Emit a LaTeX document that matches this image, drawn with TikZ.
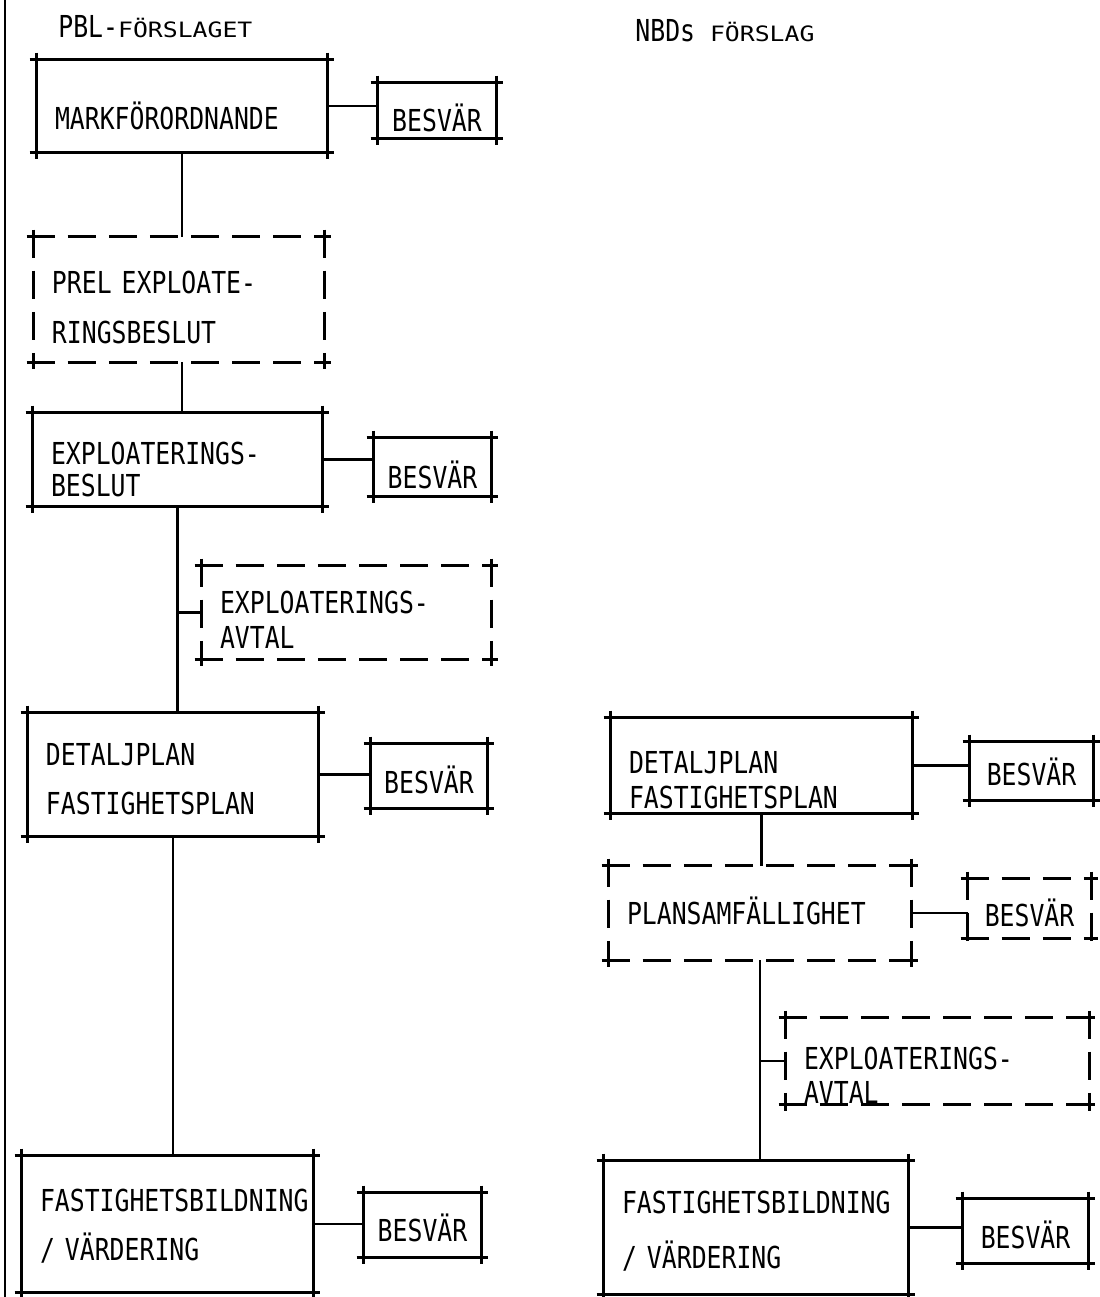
\documentclass[tikz,border=0pt]{standalone}
\usepackage{fontspec}
\usepackage{graphicx}
\setmainfont[FakeStretch=0.82]{DejaVu Sans Mono}
\usetikzlibrary{calc}
\hyphenpenalty=10000

\begin{document}
\begin{tikzpicture}[line width=0.8pt,font=\fontsize{8.6}{14}\selectfont,
   ln/.style={draw,shorten <=-2pt,shorten >=-2pt},
   dsh/.style={dash pattern=on 8pt off 3.7pt},
   box/.style={inner xsep=0.17cm,inner ysep=0pt,align=left,append after command={
     (\tikzlastnode.north west) edge[ln,#1] (\tikzlastnode.north east)
     (\tikzlastnode.south west) edge[ln,#1] (\tikzlastnode.south east)
     (\tikzlastnode.north west) edge[ln,#1] (\tikzlastnode.south west)
     (\tikzlastnode.north east) edge[ln,#1] (\tikzlastnode.south east)}},
   box/.default=solid,
   bes/.style={box=#1,inner sep=0pt,align=center,text depth=0pt},
   bes/.default=solid,
   th/.style 2 args={text height=#1pt,text depth=#2pt}]
  \useasboundingbox (0,0) rectangle (10.99,-12.97);
  \draw (0.05,0) -- (0.05,-12.97);
  \node[anchor=base west,inner sep=0pt] (pbl) at (0.57,-0.38) {PBL-\scalebox{1}[0.7]{FÖRSLAGET}};
  \node[anchor=base west,inner sep=0pt] (nbd) at (6.34,-0.42) {NBDs \scalebox{1}[0.7]{FÖRSLAG}};
  % PBL
  \node[box,th={13.1}{0},text width=2.54cm,minimum height=0.90cm] (mark) at (1.82,-1.06) {MARKFÖRORDNANDE};
  \node[bes,text height=11.7pt,minimum width=1.16cm,minimum height=0.53cm] (b1) at (4.37,-1.105) {BESVÄR};
  \node[box=dsh,th={10.8}{14},text width=2.54cm,minimum height=1.23cm] (prel) at (1.79,-2.995) {PREL EXPLOATE-\\RINGSBESLUT};
  \node[box,th={11.7}{9.1},text width=2.53cm,minimum height=0.91cm] (expl) at (1.775,-4.595) {EXPLOATERINGS-\\[-4.9pt]BESLUT};
  \node[bes,text height=12pt,minimum width=1.15cm,minimum height=0.56cm] (b3) at (4.325,-4.67) {BESVÄR};
  \node[box=dsh,th={10.3}{10},text width=2.53cm,minimum height=0.91cm] (avtl) at (3.465,-6.125) {EXPLOATERINGS-\\[-4pt]AVTAL};
  \node[box,th={8.8}{14},text width=2.54cm,minimum height=1.21cm] (detl) at (1.73,-7.745) {DETALJPLAN\\FASTIGHETSPLAN};
  \node[bes,text height=9.7pt,minimum width=1.14cm,minimum height=0.62cm] (b5) at (4.29,-7.76) {BESVÄR};
  \node[box,th={6.8}{14},text width=2.55cm,minimum height=1.34cm] (fastl) at (1.675,-12.24) {FASTIGHETSBILDNING\\/ VÄRDERING};
  \node[bes,text height=9.1pt,minimum width=1.15cm,minimum height=0.62cm] (b6) at (4.225,-12.25) {BESVÄR};
  % NBD
  \node[box,th={14.5}{9.7},text width=2.65cm,minimum height=0.93cm] (detr) at (7.615,-7.655) {DETALJPLAN\\[-4.3pt]FASTIGHETSPLAN};
  \node[bes,text height=8.5pt,minimum width=1.21cm,minimum height=0.56cm] (b7) at (10.315,-7.71) {BESVÄR};
  \node[box=dsh,th={6.3}{0},text width=2.66cm,minimum height=0.92cm] (plan) at (7.60,-9.13) {PLANSAMFÄLLIGHET};
  \node[bes=dsh,text height=10pt,minimum width=1.21cm,minimum height=0.57cm] (b8) at (10.295,-9.085) {BESVÄR};
  \node[box=dsh,th={14.1}{9.5},text width=2.67cm,minimum height=0.84cm] (avtr) at (9.375,-10.61) {EXPLOATERINGS-\\[-4.3pt]AVTAL};
  \node[box,th={7.7}{15.4},text width=2.68cm,minimum height=1.31cm] (fastr) at (7.56,-12.275) {FASTIGHETSBILDNING\\[1.4pt]/ VÄRDERING};
  \node[bes,text height=9.7pt,minimum width=1.23cm,minimum height=0.62cm] (b10) at (10.255,-12.31) {BESVÄR};

  \draw (mark.east) -- (mark.east -| b1.west);
  \draw (expl.east) -- (expl.east -| b3.west);
  \draw (detl.east) -- (detl.east -| b5.west);
  \draw (fastl.east) -- (fastl.east -| b6.west);
  \draw (detr.east) -- (detr.east -| b7.west);
  \draw (plan.east) -- (plan.east -| b8.west);
  \draw (fastr.east) -- (fastr.east -| b10.west);
  \draw (mark.south) -- (mark.south |- prel.north);
  \draw (mark.south |- prel.south) -- (mark.south |- expl.north);
  \draw (expl.south) -- (expl.south |- detl.north);
  \draw (avtl.west) -- (avtl.west -| expl.south);
  \draw (detl.south) -- (detl.south |- fastl.north);
  \draw (detr.south) -- (detr.south |- plan.north);
  \draw (plan.south) -- (plan.south |- fastr.north);
  \draw (avtr.west) -- (avtr.west -| plan.south);
\end{tikzpicture}
\end{document}
